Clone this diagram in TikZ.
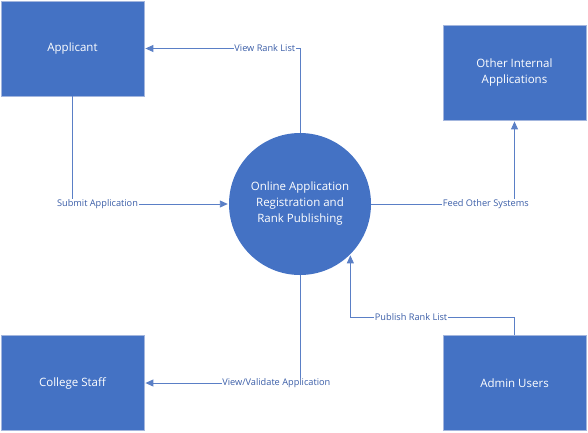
\documentclass[tikz,border=0pt]{standalone}
\usepackage{fontspec}
\setmainfont{Open Sans}
\usepackage{xcolor}
\usetikzlibrary{arrows.meta, calc, positioning}
\definecolor{dfdblue}{HTML}{4472C4}
\definecolor{dfdedge}{HTML}{A3B6DE}
\definecolor{dfdline}{HTML}{5A7FC6}
\definecolor{dfdtext}{HTML}{3B5EA8}
\tikzset{
    boxnode/.style = {draw=dfdedge, line width=0.8pt, fill=dfdblue, rectangle, minimum width=143pt,
      minimum height=95pt, inner sep=0pt, node distance=0em, text=white,
      font=\fontsize{11.5}{16}\selectfont},
    circlenode/.style = {circle, fill=dfdblue, minimum size=142pt, inner sep=0pt, node distance=0em,
      text=white, font=\fontsize{11.5}{16}\selectfont},
    flowlabel/.style = {fill=white, inner sep=0.6pt, text=dfdtext, font=\fontsize{9.2}{10}\selectfont},
    connect/.style = {dfdline, line width=0.9pt, -{Triangle[length=8pt, width=7pt]}, shorten >=1pt},
    every text node part/.style={align=center}
}
\begin{document}
\begin{tikzpicture}[x=1pt, y=1pt]
    \useasboundingbox (0,0) rectangle (588,-432);

    \node [name=proc, circlenode] at (300,-204) {Online Application\\Registration and\\Rank Publishing};

    \node [name=app, boxnode, left of = proc, xshift=-227.5pt, yshift=155.5pt] {Applicant};
    \node [name=oth, boxnode, right of = proc, xshift=214.5pt, yshift=131.5pt] {Other Internal\\Applications};
    \node [name=staff, boxnode, left of = proc, xshift=-227.5pt, yshift=-179pt] {College Staff};
    \node [name=adm, boxnode, right of = proc, xshift=214.5pt, yshift=-179pt] {Admin Users};

    % flows
    \draw [connect] (proc.north) |- node [flowlabel, pos=0.613] {View Rank List} (app.east);
    \draw [connect] (app.south) |- node [flowlabel, pos=0.58] {Submit Application} (proc.west);
    \draw [connect] (proc.east) -| node [flowlabel, pos=0.40] {Feed Other Systems} (oth.south);
    \draw [connect] (proc.south) |- node [flowlabel, pos=0.576] {View/Validate Application} (staff.east);
    \draw [connect] (adm.north) -- ++(0,18) -| node [flowlabel, pos=0.315] {Publish Rank List} (proc.-45);
\end{tikzpicture}
\end{document}
